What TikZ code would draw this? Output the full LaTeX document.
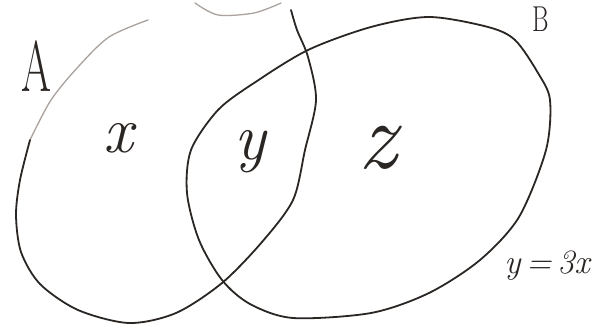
\documentclass[tikz,border=0pt]{standalone}
\usepackage{tikz}
\usetikzlibrary{positioning,calc}
\definecolor{penInk}{HTML}{2A2624}
\definecolor{penFaint}{HTML}{A9A29E}

\tikzset{
  setline/.style={draw=penInk,line width=1.8pt,line cap=round,line join=round},
  faintline/.style={draw=penFaint,line width=1.3pt,line cap=round},
  setname/.style={text=penInk,inner sep=0pt,font=\fontsize{72}{72}\selectfont},
  partlabel/.style={text=penInk,inner sep=0pt,font=\fontsize{66}{66}\selectfont\itshape},
}

\begin{document}
\begin{tikzpicture}[x=1pt,y=-1pt]
\useasboundingbox[fill=white] (0,0) rectangle (607,329);

% set A (open stroke, faint at the top)
\draw[faintline] plot[smooth] coordinates {(148,20) (109,37) (78,67) (51,100) (30,140)};
\draw[setline] plot[smooth] coordinates {(30,140) (20,180) (16,215) (21,252) (40,284)
  (78,310) (129,323) (176,313) (222,283) (262,242) (293,200) (305,150) (316,100)
  (308,57) (297,30) (291,10)};
\draw[faintline] plot[smooth] coordinates {(195,3) (218,15) (254,13) (281,3)};

% set B
\draw[setline] plot[smooth cycle] coordinates {(187,193) (191,150) (218,110) (254,83)
  (308,50) (371,27) (429,17) (488,27) (515,40) (538,73) (550,100) (546,150)
  (519,217) (480,260) (429,293) (371,313) (293,318) (250,304) (222,280) (199,240)};

\node[setname,xscale=0.6] (lblA) at (36,66) {A};
\node[setname,font=\fontsize{36}{36}\selectfont,xscale=0.7] (lblB) at (541,19) {B};
\node[partlabel] (lblX) at (118,138) {x};
\node[partlabel] (lblY) at (250,152) {y};
\node[partlabel,font=\fontsize{96}{96}\selectfont\itshape] (lblZ) at (378,148) {z};
\node[partlabel,font=\fontsize{34}{34}\selectfont\itshape] (rel) at (547,266) {y\,=\,3x};
\end{tikzpicture}
\end{document}
